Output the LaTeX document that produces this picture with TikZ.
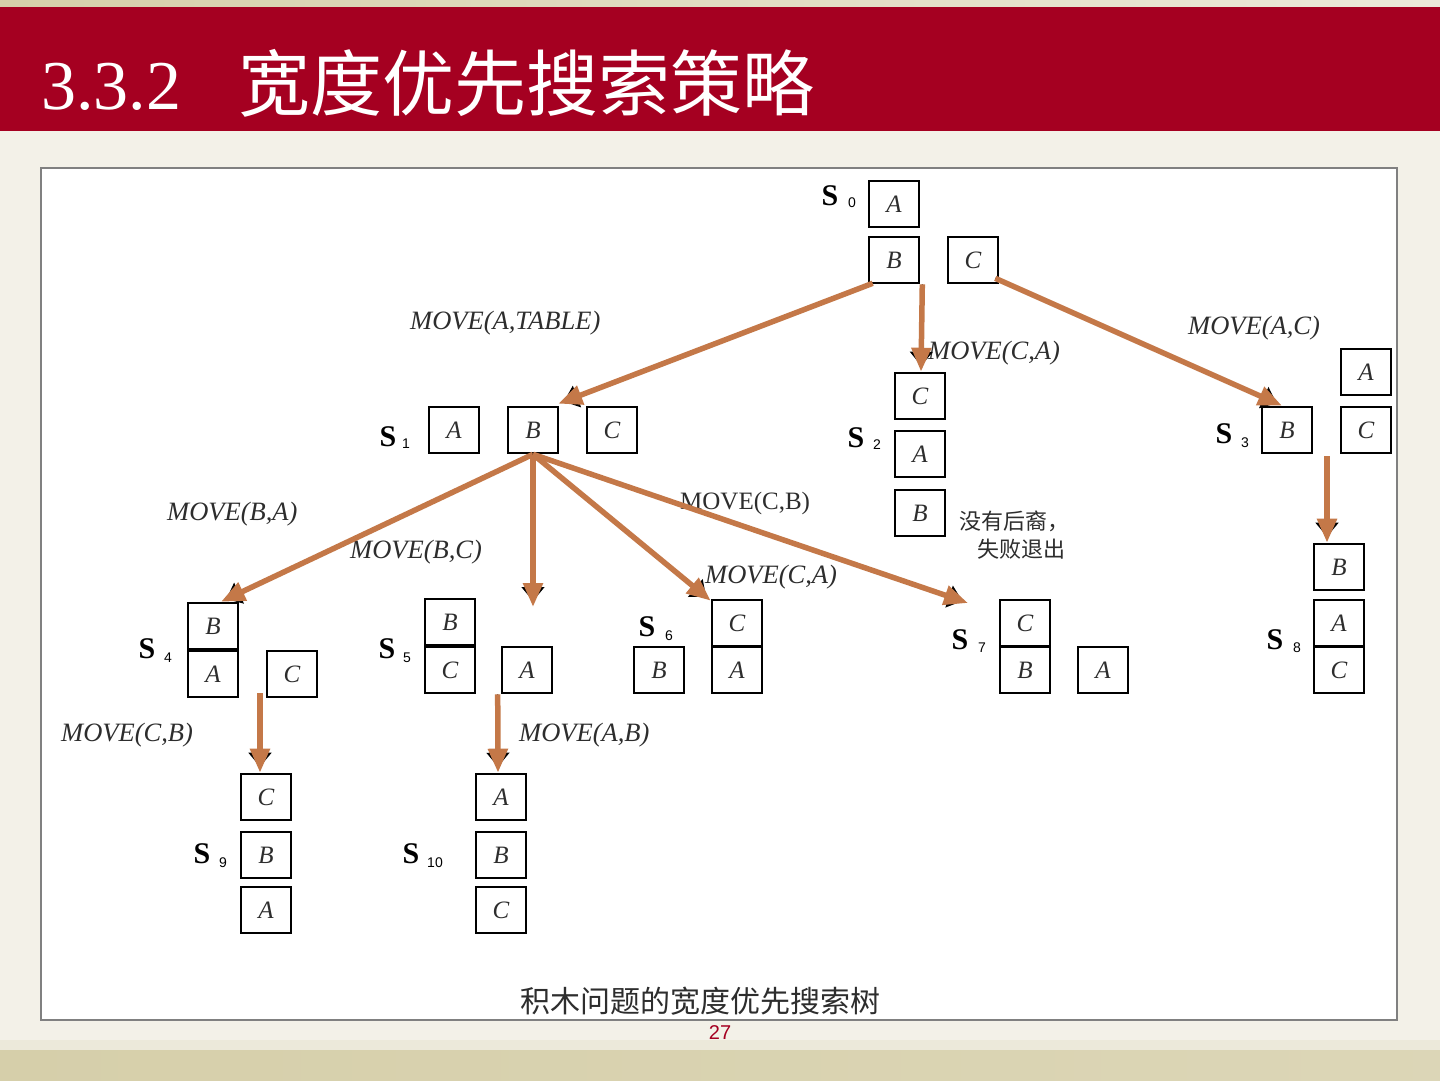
\documentclass[tikz,border=0pt]{standalone}
\usepackage{fontspec}
\setmainfont{Liberation Serif}
\newfontfamily\cjk{Noto Sans CJK SC}
\newfontfamily\lsans{Liberation Sans}
\usetikzlibrary{arrows.meta}
\definecolor{bandred}{RGB}{165,0,33}
\definecolor{cream}{RGB}{243,241,232}
\definecolor{tanband}{RGB}{214,207,170}
\definecolor{tanlight}{RGB}{236,233,218}
\definecolor{arrorange}{RGB}{196,120,72}
\definecolor{framegray}{RGB}{128,128,128}
\definecolor{boxtext}{RGB}{45,45,45}
\newcommand\mvarrow[2]{\draw[shadowarr] #1 -- #2; \draw[mainarr] #1 -- #2;}
\begin{document}
\begin{tikzpicture}[x=1pt,y=-1pt,
  blk/.style={draw=black, line width=2.6pt, minimum width=50pt, minimum height=46pt,
    inner sep=0pt, font=\fontsize{25}{25}\selectfont\itshape, text=boxtext},
  slab/.style={inner sep=0pt, font=\fontsize{30}{30}\selectfont\bfseries},
  ssub/.style={inner sep=0pt, font=\lsans\fontsize{14}{14}\selectfont},
  mv/.style={inner sep=0pt, anchor=west, text=boxtext, font=\fontsize{26.5}{26.5}\selectfont\itshape},
  mvup/.style={inner sep=0pt, anchor=west, text=boxtext, font=\fontsize{25}{25}\selectfont},
  shadowarr/.style={draw=black, line width=1.5pt, shorten >=6pt,
    -{Triangle[length=14pt,width=23pt]}},
  mainarr/.style={draw=arrorange, line width=5.5pt,
    -{Triangle[length=24pt,width=19pt]}},
]
\useasboundingbox (0,0) rectangle (1440,1080);
% background
\fill[cream] (0,0) rectangle (1440,1080);
\fill[left color=tanband, right color=tanlight] (0,0) rectangle (1440,7);
\fill[bandred] (0,7) rectangle (1440,131);
\fill[left color=tanband, right color=tanband!85!white] (0,1050) rectangle (1440,1080);
\fill[tanlight] (0,1040) rectangle (1440,1050);
% title
\node[inner sep=0pt, anchor=base west, text=white, font=\fontsize{70}{70}\selectfont] (tnum) at (41,109) {3.3.2};
\node[inner sep=0pt, anchor=base west, text=white, font=\cjk\fontsize{72}{72}\selectfont] (ttitle) at (238,110) {宽度优先搜索策略};
% frame
\draw[framegray, line width=1.5pt, fill=white] (41,168) rectangle (1397,1020);
% boxes
\node[blk] (s0A) at (894,204) {A};
\node[blk] (s0B) at (894,260) {B};
\node[blk] (s0C) at (973,260) {C};
\node[blk] (s1A) at (454,430) {A};
\node[blk] (s1B) at (533,430) {B};
\node[blk] (s1C) at (612,430) {C};
\node[blk] (s2C) at (920,396) {C};
\node[blk] (s2A) at (920,454) {A};
\node[blk] (s2B) at (920,513) {B};
\node[blk] (s3A) at (1366,372) {A};
\node[blk] (s3B) at (1287,430) {B};
\node[blk] (s3C) at (1366,430) {C};
\node[blk] (s4B) at (213,626) {B};
\node[blk] (s4A) at (213,674) {A};
\node[blk] (s4C) at (292,674) {C};
\node[blk] (s5B) at (450,622) {B};
\node[blk] (s5C) at (450,670) {C};
\node[blk] (s5A) at (527,670) {A};
\node[blk] (s6B) at (659,670) {B};
\node[blk] (s6C) at (737,623) {C};
\node[blk] (s6A) at (737,670) {A};
\node[blk] (s7C) at (1025,623) {C};
\node[blk] (s7B) at (1025,670) {B};
\node[blk] (s7A) at (1103,670) {A};
\node[blk] (s8B) at (1339,567) {B};
\node[blk] (s8A) at (1339,623) {A};
\node[blk] (s8C) at (1339,670) {C};
\node[blk] (s9C) at (266,797) {C};
\node[blk] (s9B) at (266,855) {B};
\node[blk] (s9A) at (266,910) {A};
\node[blk] (s10A) at (501,797) {A};
\node[blk] (s10B) at (501,855) {B};
\node[blk] (s10C) at (501,910) {C};
% state labels
\node[slab] (l0) at (830,196) {S}; \node[ssub] (l0s) at (852,203) {0};
\node[slab] (l1) at (388,437) {S}; \node[ssub] (l1s) at (406,444) {1};
\node[slab] (l2) at (856,438) {S}; \node[ssub] (l2s) at (877,445) {2};
\node[slab] (l3) at (1224,434) {S}; \node[ssub] (l3s) at (1245,443) {3};
\node[slab] (l4) at (147,649) {S}; \node[ssub] (l4s) at (168,658) {4};
\node[slab] (l5) at (387,649) {S}; \node[ssub] (l5s) at (407,658) {5};
\node[slab] (l6) at (647,627) {S}; \node[ssub] (l6s) at (669,636) {6};
\node[slab] (l7) at (960,640) {S}; \node[ssub] (l7s) at (982,648) {7};
\node[slab] (l8) at (1275,640) {S}; \node[ssub] (l8s) at (1297,648) {8};
\node[slab] (l9) at (202,854) {S}; \node[ssub] (l9s) at (223,863) {9};
\node[slab] (l10) at (411,854) {S}; \node[ssub] (l10s) at (435,863) {10};
% move labels
\node[mv] (m1) at (410,323) {MOVE(A,TABLE)};
\node[mv] (m2) at (928,353) {MOVE(C,A)};
\node[mv] (m3) at (1188,328) {MOVE(A,C)};
\node[mv] (m4) at (167,514) {MOVE(B,A)};
\node[mv] (m5) at (350,552) {MOVE(B,C)};
\node[mvup] (m7) at (680,503) {MOVE(C,B)};
\node[mv] (m6) at (705,577) {MOVE(C,A)};
\node[mv] (m9) at (61,735) {MOVE(C,B)};
\node[mv] (m10) at (519,735) {MOVE(A,B)};
% notes
\node[inner sep=0pt, anchor=west, font=\cjk\fontsize{22}{22}\selectfont, text=boxtext] (n1) at (959,521) {没有后裔，};
\node[inner sep=0pt, anchor=west, font=\cjk\fontsize{22}{22}\selectfont, text=boxtext] (n2) at (977,549) {失败退出};
% free arrow ends
\coordinate (c5) at (533,607);
\coordinate (c7) at (968,603);
\coordinate (c8) at (1327,456);
\coordinate (c9) at (260,693);
% arrows
\mvarrow{([shift={(5,-1)}]s0B.south west)}{([shift={(-1,-2)}]s1B.north east)}
\mvarrow{([xshift=2]s0B.south east)}{([xshift=1]s2C.north)}
\mvarrow{([shift={(-4,-6)}]s0C.south east)}{([xshift=-5]s3B.north)}
\mvarrow{(s1B.south)}{([xshift=8]s4B.north)}
\mvarrow{(s1B.south)}{(c5)}
\mvarrow{(s1B.south)}{([yshift=-2]s6C.north west)}
\mvarrow{(s1B.south)}{(c7)}
\mvarrow{(c8)}{([xshift=-12]s8B.north)}
\mvarrow{(c9)}{([xshift=-6]s9C.north)}
\mvarrow{([xshift=-3]s5A.south west)}{([xshift=-3]s10A.north)}
% caption
\node[inner sep=0pt, font=\cjk\fontsize{30}{30}\selectfont, text=boxtext] (cap) at (700,1001) {积木问题的宽度优先搜索树};
\node[inner sep=0pt, font=\lsans\fontsize{20}{20}\selectfont, text=bandred] (pg) at (720,1032) {27};
\end{tikzpicture}
\end{document}
